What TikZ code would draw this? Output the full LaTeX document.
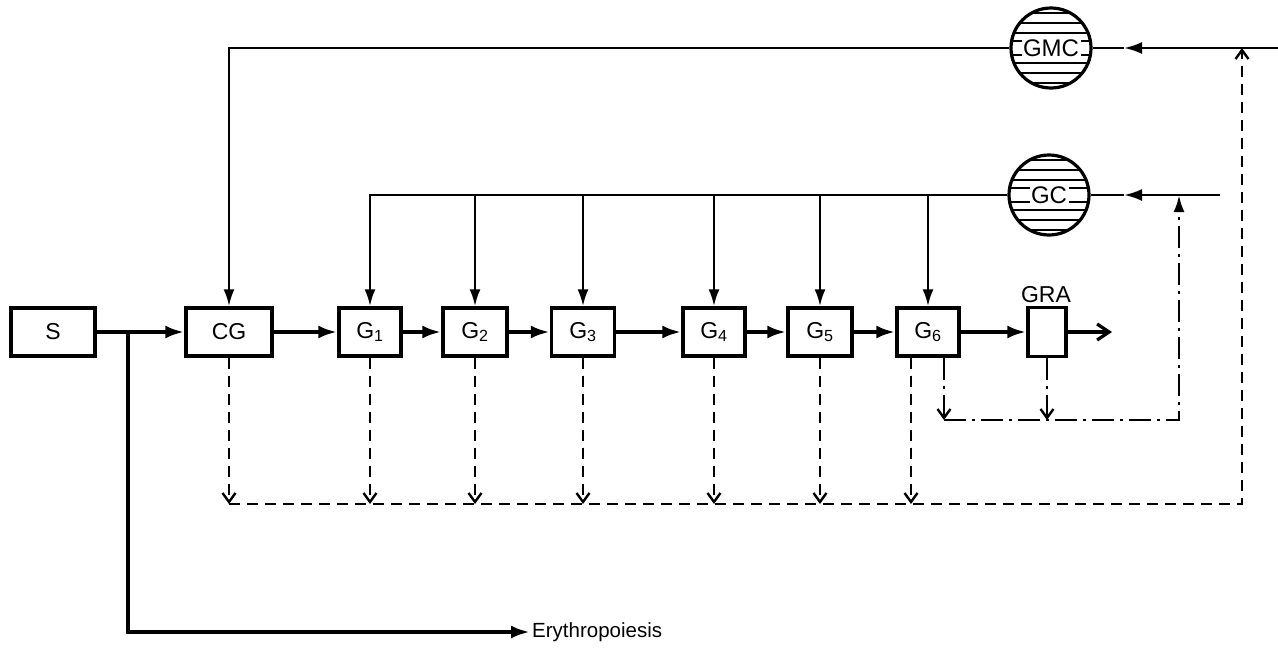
\documentclass[tikz,border=0pt]{standalone}
\usepackage{fontspec}
\setmainfont{Liberation Sans}
\usetikzlibrary{arrows.meta}
\begin{document}
\begin{tikzpicture}[x=1pt,y=-1pt,
  lab/.style={font=\fontsize{23}{26}\selectfont},
  box/.style={draw, line width=3.4pt, minimum height=48pt, inner sep=0pt, lab},
  flow/.style={line width=3.8pt, -{Latex[length=19pt,width=13pt]}},
  feed/.style={line width=2.6pt, -{Latex[length=17pt,width=11pt]}},
  thinline/.style={line width=2.6pt},
  dsh/.style={line width=2.8pt, dash pattern=on 11pt off 7pt},
  dsharr/.style={dsh, -{Straight Barb[length=9pt,width=13pt,line width=2.4pt]}},
  dd/.style={line width=2.8pt, dash pattern=on 22pt off 6pt on 3pt off 6pt},
  hatch/.style={line width=2.4pt},
  ring/.style={circle, draw, line width=3.2pt, minimum size=80pt, inner sep=0pt},
  tag/.style={fill=white, inner sep=1.5pt, font=\fontsize{24}{26}\selectfont},
]
\useasboundingbox (0,0) rectangle (1278,648);

% boxes
\node[box, minimum width=84pt] (s) at (53,332) {S};
\node[box, minimum width=86pt] (cg) at (229,332) {CG};
\node[box, minimum width=62pt] (g1) at (370,332) {G\textsubscript{1}};
\node[box, minimum width=64pt] (g2) at (475,332) {G\textsubscript{2}};
\node[box, minimum width=63pt] (g3) at (583,332) {G\textsubscript{3}};
\node[box, minimum width=62pt] (g4) at (714,332) {G\textsubscript{4}};
\node[box, minimum width=64pt] (g5) at (820,332) {G\textsubscript{5}};
\node[box, minimum width=62pt] (g6) at (928,332) {G\textsubscript{6}};
\node[box, minimum width=38pt, minimum height=49pt] (gra) at (1047,332) {};
\node[lab, anchor=base] (gralab) at (1046,302) {GRA};
\node[anchor=west, font=\fontsize{20.5}{24}\selectfont, inner sep=2pt] (ery) at (530,632) {Erythropoiesis};

% hatched circles
\begin{scope}
  \clip (1051,48) circle (39pt);
  \foreach \d in {-35,-25,-15,-7,7,15,25,35} \draw[hatch] (1005,{48+\d}) -- (1097,{48+\d});
\end{scope}
\node[ring] (gmc) at (1051,48) {};
\node[tag] at (gmc.center) {GMC};
\begin{scope}
  \clip (1049,195) circle (39pt);
  \foreach \d in {-35,-25,-15,-7,7,15,25,35} \draw[hatch] (1003,{195+\d}) -- (1095,{195+\d});
\end{scope}
\node[ring] (gc) at (1049,195) {};
\node[tag] at (gc.center) {GC};

% coordinates
\coordinate (br) at (128,332);
\coordinate (out) at (1112,332);
\coordinate (tr) at (1278,48);
\coordinate (ta) at (1124,48);
\coordinate (gr) at (1220,195);
\coordinate (ga) at (1124,195);
\coordinate (dl) at (232,504);
\coordinate (drr) at (1242,504);
\coordinate (ddl) at (944,420);
\coordinate (ddr) at (1179,420);
\coordinate (g6d) at (911,504);

% main flow
\draw[flow] (s.east) -- (cg.west);
\draw[flow] (br) |- (ery.west);
\draw[flow] (cg.east) -- (g1.west);
\draw[flow] (g1.east) -- (g2.west);
\draw[flow] (g2.east) -- (g3.west);
\draw[flow] (g3.east) -- (g4.west);
\draw[flow] (g4.east) -- (g5.west);
\draw[flow] (g5.east) -- (g6.west);
\draw[flow] (g6.east) -- (gra.west);
\draw[line width=3.4pt, -{Straight Barb[length=12pt,width=16pt,line width=3.2pt]}] (gra.east) -- (out);

% top feedback (GMC)
\draw[thinline, -{Latex[length=18pt,width=12pt]}] (tr) -- (ta);
\draw[thinline] (ta) -- (gmc.east);
\draw[feed] (gmc.west) -| (cg.north);

% GC feedback
\draw[thinline, -{Latex[length=18pt,width=12pt]}] (gr) -- (ga);
\draw[thinline] (ga) -- (gc.east);
\draw[feed] (gc.west) -| (g1.north);
\foreach \g in {g2,g3,g4,g5,g6} \draw[feed] (\g.north |- gc.west) -- (\g.north);

% dashed signals
\draw[dsharr] (cg.south) -- (cg.south |- dl);
\foreach \g in {g1,g2,g3,g4,g5} \draw[dsharr] (\g.south) -- (\g.south |- dl);
\draw[dsharr] (g6d |- g6.south) -- (g6d);
\draw[dsharr] (cg.south |- dl) -- (drr) -- (drr |- tr);

% dash-dot signals
\draw[dd, -{Straight Barb[length=9pt,width=13pt,line width=2.4pt]}] (ddl |- g6.south) -- (ddl);
\draw[dd, -{Straight Barb[length=9pt,width=13pt,line width=2.4pt]}] (gra.south) -- (gra.south |- ddl);
\draw[dd, -{Latex[length=17pt,width=11pt]}] (ddl) -- (ddr) -- (ddr |- gr);
\end{tikzpicture}
\end{document}
